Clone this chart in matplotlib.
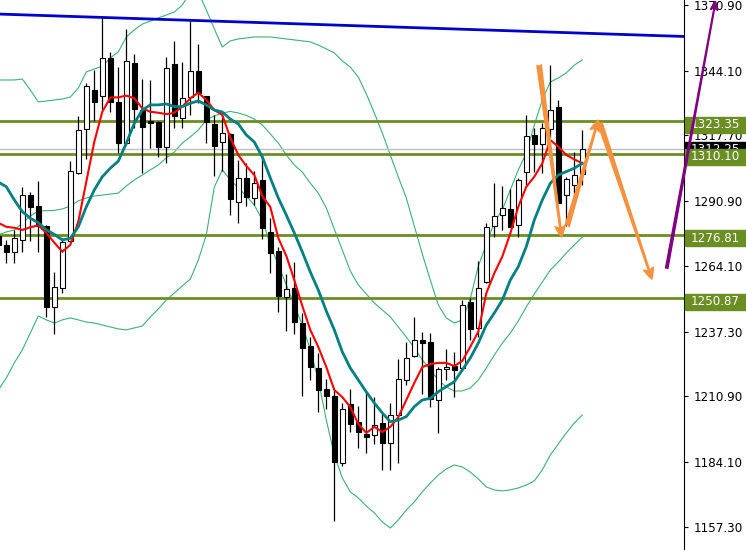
import matplotlib
matplotlib.use("Agg")
import matplotlib.pyplot as plt
from matplotlib.patches import Rectangle, FancyArrowPatch
from matplotlib.transforms import blended_transform_factory

# bar numbers (one per candle, left to right)
bars = list(range(-1, 73))

opens = [1276.4, 1272.75, 1269.9, 1274.8, 1293.2, 1288.7, 1280.5, 1247.4, 1255.2, 1274.4,
         1302.2, 1320.2, 1336.2, 1333.7, 1349.3, 1331.3, 1314.5, 1347.4, 1328.0, 1323.5,
         1323.2, 1312.9, 1346.8, 1324.7, 1333.5, 1344.0, 1333.7, 1322.3, 1315.0, 1318.2,
         1290.2, 1300.2, 1292.1, 1299.4, 1278.0, 1270.3, 1251.6, 1255.0, 1240.7, 1231.4,
         1222.5, 1213.8, 1211.0, 1183.4, 1207.5, 1200.2, 1195.4, 1194.9, 1199.8, 1191.8,
         1203.0, 1217.4, 1227.2, 1233.7, 1233.0, 1209.2, 1221.9, 1223.1, 1222.2, 1249.3,
         1238.7, 1257.5, 1280.5, 1284.9, 1287.4, 1280.8, 1302.5, 1317.7, 1314.0, 1320.3,
         1329.2, 1293.1, 1297.3, 1301.7]
highs = [1278.9, 1274.8, 1278.9, 1296.5, 1294.4, 1298.9, 1281.0, 1261.7, 1275.6, 1307.1,
         1325.6, 1339.1, 1344.4, 1365.7, 1351.8, 1345.6, 1361.2, 1351.1, 1340.7, 1340.3,
         1323.4, 1349.7, 1356.3, 1347.7, 1364.6, 1355.0, 1333.9, 1326.0, 1327.3, 1318.6,
         1307.6, 1306.3, 1303.0, 1308.9, 1283.7, 1272.1, 1260.8, 1265.7, 1245.0, 1235.0,
         1228.4, 1217.8, 1213.4, 1208.0, 1213.9, 1206.9, 1212.5, 1210.7, 1204.1, 1208.0,
         1226.0, 1232.9, 1243.2, 1237.1, 1236.6, 1222.9, 1230.1, 1229.1, 1250.2, 1250.9,
         1266.2, 1281.6, 1298.0, 1296.9, 1295.6, 1300.1, 1326.0, 1320.5, 1322.6, 1346.4,
         1332.1, 1300.7, 1310.7, 1319.8]
lows = [1270.7, 1265.4, 1265.4, 1269.9, 1274.4, 1269.9, 1243.3, 1236.3, 1253.1, 1273.9,
        1302.0, 1308.0, 1323.5, 1328.0, 1327.2, 1310.4, 1313.7, 1320.6, 1302.3, 1312.5,
        1308.9, 1306.4, 1320.8, 1320.8, 1326.0, 1330.8, 1314.6, 1301.1, 1303.0, 1285.0,
        1281.6, 1288.7, 1289.1, 1275.1, 1261.2, 1245.5, 1237.7, 1236.2, 1211.1, 1217.5,
        1204.3, 1205.5, 1159.9, 1182.4, 1196.1, 1189.5, 1187.5, 1191.3, 1180.7, 1180.7,
        1183.4, 1215.5, 1227.0, 1211.6, 1206.6, 1195.9, 1217.5, 1210.6, 1221.0, 1233.9,
        1235.2, 1257.2, 1276.2, 1278.9, 1280.0, 1276.2, 1297.0, 1302.5, 1302.1, 1317.1,
        1289.5, 1280.7, 1290.1, 1297.3]
closes = [1272.75, 1269.9, 1275.6, 1293.2, 1288.3, 1280.5, 1247.4, 1255.6, 1274.0, 1303.0,
          1319.8, 1337.8, 1331.3, 1349.3, 1331.3, 1314.5, 1348.1, 1328.5, 1321.2, 1322.8,
          1313.0, 1345.2, 1325.7, 1332.9, 1344.0, 1334.9, 1323.2, 1313.4, 1318.6, 1291.5,
          1300.2, 1292.5, 1298.1, 1279.8, 1269.6, 1252.0, 1254.6, 1241.4, 1230.5, 1222.9,
          1213.4, 1211.1, 1184.1, 1205.6, 1199.4, 1196.1, 1194.0, 1199.0, 1191.6, 1203.0,
          1217.8, 1226.4, 1233.7, 1232.8, 1209.6, 1221.9, 1222.7, 1221.6, 1248.0, 1238.3,
          1255.0, 1280.0, 1284.5, 1287.8, 1280.2, 1299.2, 1317.3, 1314.0, 1320.5, 1327.9,
          1289.8, 1299.8, 1301.4, 1311.9]

# moving averages
ma_fast = [1281.8, 1280.2, 1279.8, 1278.9, 1280.0, 1280.8, 1277.7, 1273.7, 1270.0, 1272.8,
           1282.3, 1298.7, 1315.0, 1327.3, 1333.1, 1333.2, 1333.9, 1332.8, 1328.7, 1327.3,
           1326.9, 1326.3, 1326.9, 1329.4, 1332.8, 1335.1, 1332.1, 1328.0, 1326.0, 1316.6,
           1309.6, 1305.1, 1301.4, 1292.8, 1288.3, 1275.6, 1268.3, 1258.4, 1247.8, 1238.0,
           1231.0, 1222.8, 1213.4, 1210.5, 1206.4, 1199.5, 1195.8, 1198.3, 1196.2, 1198.3,
           1202.3, 1209.3, 1216.3, 1222.8, 1224.0, 1224.5, 1224.5, 1223.2, 1225.3, 1231.1,
           1237.3, 1253.0, 1261.2, 1268.0, 1277.5, 1288.4, 1296.6, 1300.7, 1306.2, 1315.7,
           1313.0, 1309.6, 1307.8, 1306.2]
ma_slow = [1298.5, 1296.6, 1291.2, 1286.4, 1283.7, 1281.9, 1278.9, 1277.1, 1274.8, 1275.5,
           1280.2, 1288.4, 1295.3, 1300.7, 1304.2, 1307.1, 1314.4, 1322.6, 1328.0, 1330.1,
           1330.1, 1330.5, 1329.4, 1329.4, 1330.8, 1331.7, 1330.1, 1328.0, 1327.2, 1324.3,
           1322.3, 1317.8, 1314.9, 1308.8, 1300.2, 1292.0, 1285.0, 1277.7, 1269.9, 1261.7,
           1254.3, 1245.7, 1238.0, 1229.0, 1222.4, 1217.5, 1212.6, 1208.1, 1204.0, 1200.4,
           1201.1, 1202.5, 1206.6, 1209.3, 1210.0, 1212.7, 1214.8, 1216.8, 1221.6, 1226.5,
           1232.6, 1240.0, 1244.9, 1250.2, 1258.4, 1263.9, 1272.1, 1283.0, 1291.2, 1298.0,
           1301.4, 1302.8, 1304.2, 1306.2]

# thin band lines
band_upper = [1340.3, 1340.3, 1340.3, 1340.7, 1336.2, 1331.3, 1331.7, 1332.1, 1332.5, 1333.3,
              1337.0, 1343.6, 1344.8, 1346.0, 1349.3, 1351.8, 1357.9, 1360.8, 1363.2, 1364.4,
              1365.7, 1366.9, 1368.1, 1371.0, 1376.3, 1376.3, 1369.0, 1361.2, 1353.8, 1356.3,
              1357.1, 1357.5, 1357.9, 1357.9, 1357.9, 1357.5, 1357.1, 1356.7, 1356.3, 1355.9,
              1354.6, 1353.0, 1351.4, 1348.1, 1345.6, 1341.5, 1334.6, 1326.8, 1318.6, 1309.6,
              1300.6, 1292.0, 1280.5, 1269.1, 1258.4, 1248.2, 1242.9, 1240.8, 1242.1, 1250.7,
              1264.2, 1272.8, 1282.2, 1287.1, 1295.3, 1303.5, 1310.4, 1321.9, 1332.1, 1339.5,
              1341.1, 1343.2, 1346.4, 1348.5]
band_inner = [1276.9, 1278.1, 1278.9, 1281.8, 1284.6, 1286.7, 1286.8, 1286.9, 1287.5, 1288.7,
              1290.8, 1292.0, 1292.8, 1293.2, 1293.6, 1294.0, 1296.9, 1299.4, 1301.4, 1303.5,
              1305.5, 1308.4, 1310.8, 1314.5, 1317.0, 1319.8, 1323.9, 1325.6, 1326.8, 1327.4,
              1326.8, 1325.8, 1324.3, 1321.9, 1318.2, 1314.5, 1309.6, 1305.5, 1302.6, 1298.1,
              1294.0, 1287.9, 1279.3, 1270.7, 1262.1, 1256.4, 1252.7, 1249.0, 1246.2, 1243.3,
              1239.2, 1235.1, 1230.6, 1225.7, 1221.6, 1217.5, 1214.6, 1213.0, 1213.0, 1214.2,
              1217.5, 1222.4, 1227.7, 1232.6, 1236.7, 1241.7, 1247.4, 1252.7, 1257.6, 1262.5,
              1265.8, 1269.5, 1272.8, 1276.0]
band_lower = [1213.4, 1218.3, 1224.5, 1229.8, 1236.7, 1243.7, 1242.1, 1240.8, 1242.1, 1242.9,
              1242.1, 1241.2, 1240.8, 1240.0, 1239.2, 1238.4, 1238.0, 1238.8, 1239.6, 1243.3,
              1246.6, 1250.2, 1253.1, 1256.0, 1258.8, 1266.6, 1276.9, 1296.5, 1303.5, 1299.4,
              1296.1, 1292.8, 1289.1, 1283.0, 1272.8, 1264.6, 1256.4, 1248.2, 1240.0, 1229.8,
              1217.5, 1201.1, 1186.8, 1177.4, 1171.7, 1169.2, 1165.9, 1163.1, 1159.4, 1156.9,
              1160.2, 1164.3, 1167.6, 1171.7, 1175.3, 1178.6, 1181.1, 1182.7, 1181.9, 1179.8,
              1177.0, 1173.7, 1172.5, 1172.1, 1172.5, 1173.3, 1174.5, 1176.2, 1180.7, 1186.8,
              1191.3, 1195.8, 1199.9, 1203.2]

levels = [1323.35, 1310.10, 1276.81, 1250.87]
bid_price = 1312.0
bid_text = "1312.25"
price_ticks = [1370.90, 1344.10, 1317.70, 1290.90, 1264.10, 1237.30, 1210.90, 1184.10, 1157.30]

# trend line anchors (bar, price)
trend_a = (12, 1365.9)
trend_b = (68, 1359.9)

# drawn arrows: (bar, price) start -> end
orange_arrows = [((66.6, 1346.4), (69.4, 1276.0)),
                 ((70.1, 1280.5), (74.0, 1323.9)),
                 ((74.2, 1322.7), (80.7, 1258.8))]
purple_arrow = ((82.55, 1263.2), (88.65, 1372.4))

OLIVE = "#6B8E23"

fig = plt.figure(figsize=(7.46, 5.5), dpi=100)
ax = fig.add_axes([0, 0, 683.5 / 746, 1])
ax.set_xlim(-0.79, 84.65)
ax.set_ylim(1147.9, 1373.04)

for s in ["top", "left", "bottom"]:
    ax.spines[s].set_visible(False)
ax.spines["right"].set_linewidth(0.8)
ax.xaxis.set_visible(False)
ax.yaxis.tick_right()
ax.set_yticks(price_ticks)
ax.set_yticklabels(["%.2f" % t for t in price_ticks])
ax.tick_params(axis="y", direction="out", length=3, width=0.8, pad=4, labelsize=8.6)

# bands
ax.plot(bars, band_upper, color="#3CB371", lw=0.8, zorder=2)
ax.plot(bars, band_inner, color="#3CB371", lw=0.8, zorder=2)
ax.plot(bars, band_lower, color="#3CB371", lw=0.8, zorder=2)

# levels, bid line, trend line
ax.axhline(bid_price, color="#C0C0C0", lw=1, zorder=2)
for lv in levels:
    ax.axhline(lv, color=OLIVE, lw=2, zorder=2.5)
ax.axline(trend_a, trend_b, color="#0000CD", lw=2, zorder=2.5)

# candles
ax.vlines(bars, lows, highs, color="black", lw=0.9, zorder=3)
for b, o, c in zip(bars, opens, closes):
    up = c >= o
    ax.bar(b, max(abs(c - o), 0.6), bottom=min(o, c), width=0.55,
           color="white" if up else "black", edgecolor="black", linewidth=0.8, zorder=3.5)

# moving averages
ax.plot(bars, ma_fast, color="#FF0000", lw=1.5, zorder=4)
ax.plot(bars, ma_slow, color="#008080", lw=2, zorder=4)

# arrows
for start, end in orange_arrows:
    ax.add_patch(FancyArrowPatch(start, end, arrowstyle="fancy,head_length=1.0,head_width=0.9,tail_width=0.4",
                                 mutation_scale=8, color="#F5913F", shrinkA=0, shrinkB=0, zorder=6))
ax.add_patch(FancyArrowPatch(purple_arrow[0], purple_arrow[1],
                             arrowstyle="fancy,head_length=1.2,head_width=1.0,tail_width=0.35",
                             mutation_scale=5, color="#800080", shrinkA=0, shrinkB=0,
                             zorder=9, clip_on=False))

# price labels on the scale
trans = blended_transform_factory(ax.transAxes, ax.transData)
ax.add_patch(Rectangle((1.0015, 1308.5), 0.1, 6.6, transform=trans, color="black",
                       clip_on=False, zorder=5))
ax.text(1.011, 1311.8, bid_text, transform=trans, color="white", fontsize=8.6,
        va="center", ha="left", zorder=5.5, clip_on=False)
for lv in levels:
    ax.add_patch(Rectangle((1.0015, lv - 4.6), 0.1, 6.6, transform=trans, color=OLIVE,
                           clip_on=False, zorder=7))
    ax.text(1.011, lv - 1.3, "%.2f" % lv, transform=trans, color="white", fontsize=8.6,
            va="center", ha="left", zorder=8, clip_on=False)

fig.savefig("out.png", dpi=100)
